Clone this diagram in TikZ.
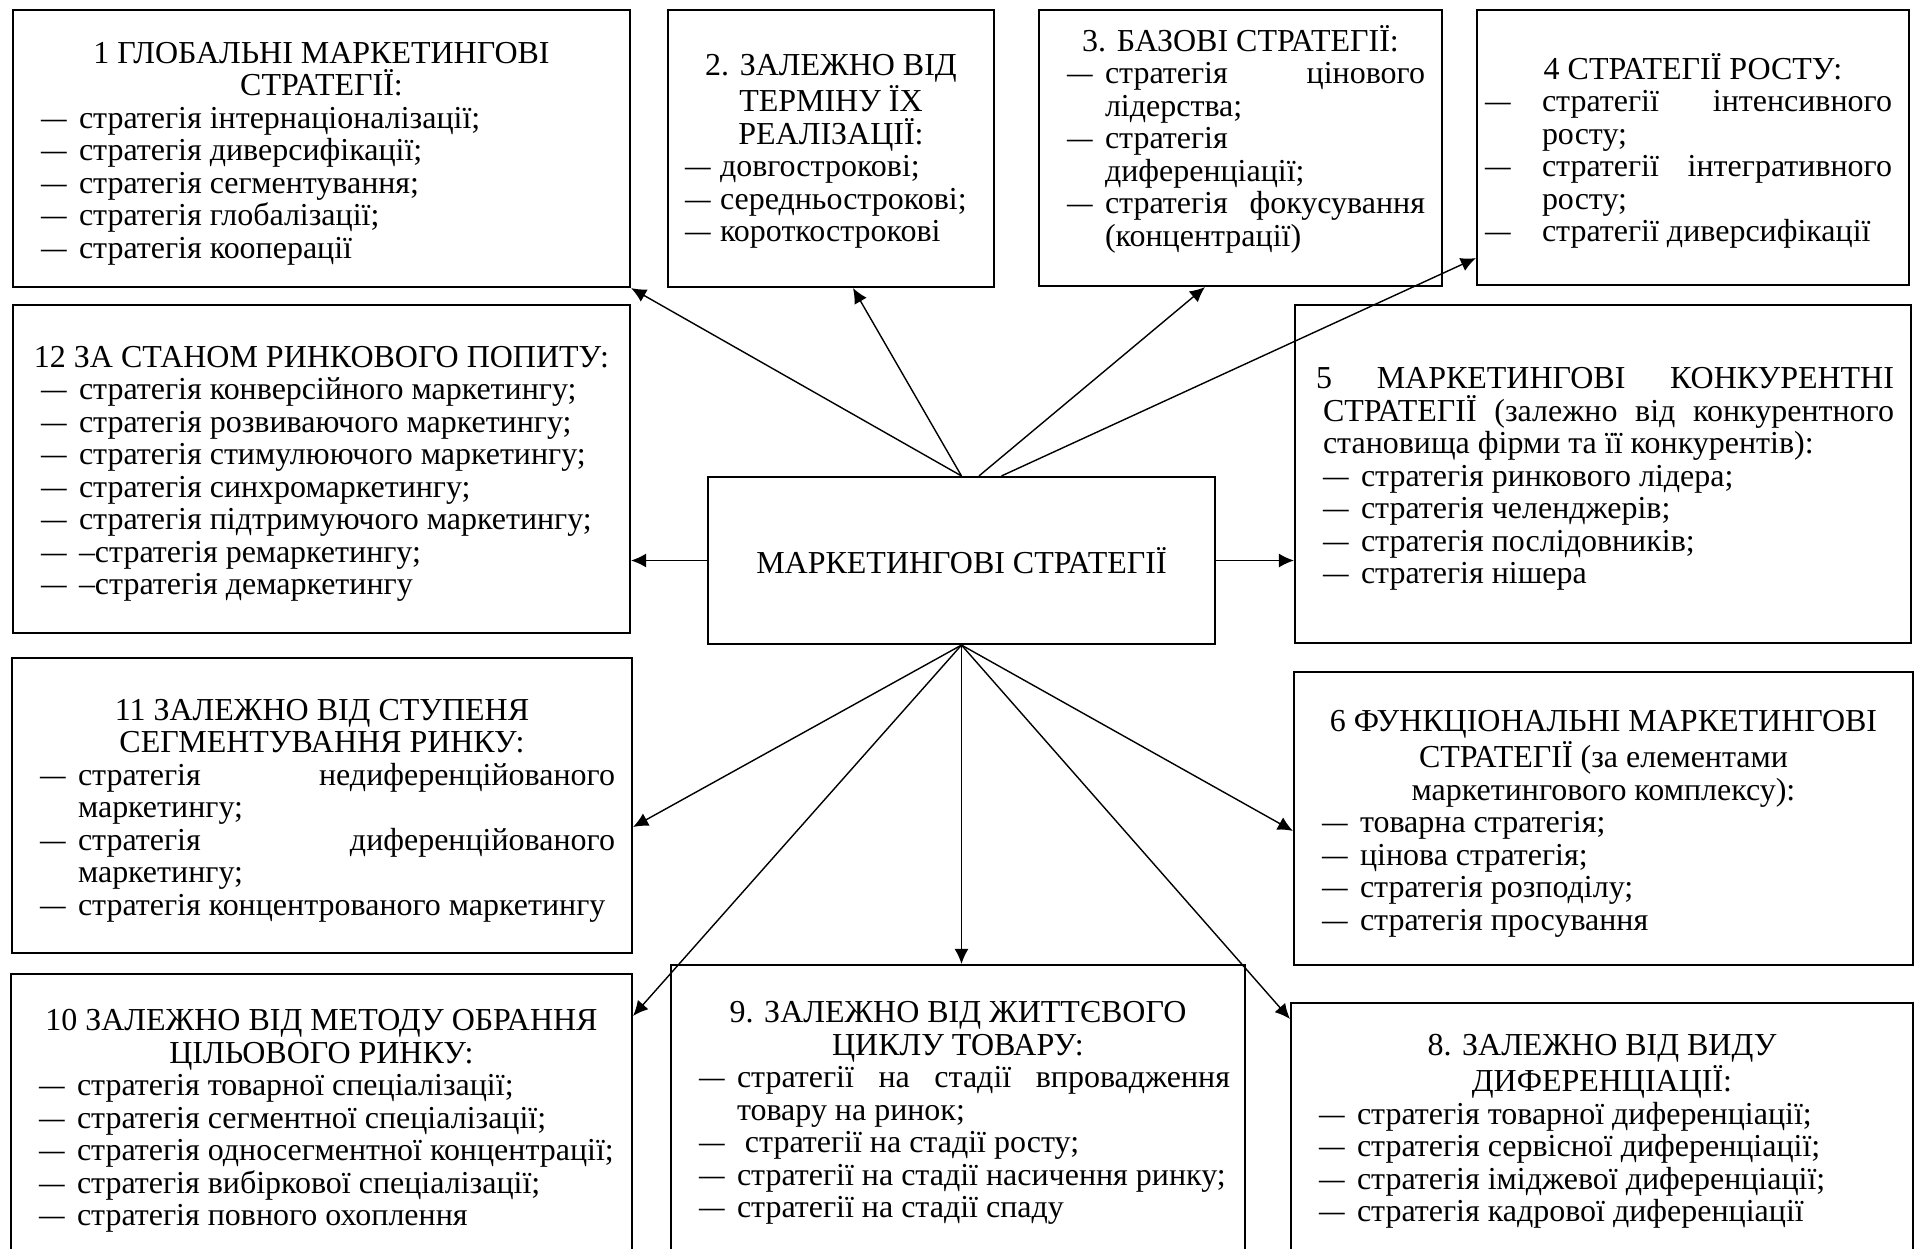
\documentclass[tikz,border=0pt]{standalone}
\usepackage{fontspec}
\setmainfont{Liberation Serif}
\usepackage{graphicx}
\usepackage{tikz}
\usetikzlibrary{calc,arrows.meta,positioning}

\newlength{\dashsk}\setlength{\dashsk}{0.11cm}
\newlength{\itmind}\setlength{\itmind}{0.49cm}
\newcommand{\itm}[1]{\par\noindent\hangindent=\itmind\hangafter=1%
  \makebox[\itmind][l]{\hspace*{\dashsk}\scalebox{0.8}[1]{—}}#1}
\newcommand{\hdr}[1]{{\centering #1\par}}
\newcommand{\tailgap}[1]{\par\vspace{#1}\hrule height0pt width0pt depth0pt}

\tikzset{stratbox/.style={draw, line width=0.6pt, inner sep=0pt, align=justify,
    font=\fontsize{9.1pt}{9.25pt}\selectfont},
  link/.style={-{Latex[length=4.3pt,width=4pt]}, line width=0.4pt}}

\begin{document}
\begin{tikzpicture}

\useasboundingbox (0,0) rectangle (19.21,-12.49);
\clip (0,0) rectangle (19.21,-12.49);

% the centre

    \node[stratbox, align=center, minimum width=5.07cm, minimum height=1.67cm] (ms)
    at (9.615,-5.605) {МАРКЕТИНГОВІ СТРАТЕГІЇ};

% the top row

    \node[stratbox, minimum width=6.17cm, minimum height=2.77cm, text width=5.83cm] (glob)
    at (3.215,-1.485) {\hdr{1 ГЛОБАЛЬНІ МАРКЕТИНГОВІ\\ СТРАТЕГІЇ:}
    \itm{стратегія інтернаціоналізації;}
    \itm{стратегія диверсифікації;}
    \itm{стратегія сегментування;}
    \itm{стратегія глобалізації;}
    \itm{стратегія кооперації}\tailgap{-0.1cm}};
    \node[stratbox, minimum width=3.26cm, minimum height=2.77cm, text width=2.92cm] (term)
    at (8.31,-1.485) {\setlength{\dashsk}{0cm}\setlength{\itmind}{0.35cm}%
    \hdr{2. ЗАЛЕЖНО ВІД\\ ТЕРМІНУ ЇХ\\ РЕАЛІЗАЦІЇ:}
    \itm{довгострокові;}
    \itm{середньострокові;}
    \itm{короткострокові}\tailgap{-0.06cm}};
    \node[stratbox, minimum width=4.03cm, minimum height=2.76cm, text width=3.69cm] (baz)
    at (12.405,-1.48) {\hdr{3. БАЗОВІ СТРАТЕГІЇ:}
    \itm{стратегія цінового\linebreak лідерства;}
    \itm{стратегія\\ диференціації;}
    \itm{стратегія фокусування\linebreak (концентрації)}\tailgap{0.18cm}};
    \node[stratbox, minimum width=4.32cm, minimum height=2.75cm, text width=3.98cm] (rist)
    at (16.93,-1.475) {\setlength{\dashsk}{-0.09cm}\setlength{\itmind}{0.48cm}%
    \hdr{4 СТРАТЕГІЇ РОСТУ:}
    \itm{стратегії інтенсивного\linebreak росту;}
    \itm{стратегії інтегративного\linebreak росту;}
    \itm{стратегії диверсифікації}\tailgap{-0.07cm}};

% the middle row

    \node[stratbox, minimum width=6.17cm, minimum height=3.28cm, text width=5.83cm] (popyt)
    at (3.215,-4.69) {\hdr{12 ЗА СТАНОМ РИНКОВОГО ПОПИТУ:}
    \itm{стратегія конверсійного маркетингу;}
    \itm{стратегія розвиваючого маркетингу;}
    \itm{стратегія стимулюючого маркетингу;}
    \itm{стратегія синхромаркетингу;}
    \itm{стратегія підтримуючого маркетингу;}
    \itm{–стратегія ремаркетингу;}
    \itm{–стратегія демаркетингу}\tailgap{-0.1cm}};
    \node[stratbox, minimum width=6.16cm, minimum height=3.38cm, text width=5.82cm] (konk)
    at (16.03,-4.74) {{\hangindent=0.11cm\hangafter=1\noindent
    \hspace*{0.04cm}5 МАРКЕТИНГОВІ КОНКУРЕНТНІ\linebreak СТРАТЕГІЇ (залежно від конкурентного\linebreak
    становища фірми та її конкурентів):\par}
    \itm{стратегія ринкового лідера;}
    \itm{стратегія челенджерів;}
    \itm{стратегія послідовників;}
    \itm{стратегія нішера}\tailgap{-0.1cm}};
    \node[stratbox, minimum width=6.20cm, minimum height=2.95cm, text width=5.86cm] (segm)
    at (3.22,-8.055) {\hdr{11 ЗАЛЕЖНО ВІД СТУПЕНЯ\\ СЕГМЕНТУВАННЯ РИНКУ:}
    \itm{стратегія недиференційованого\linebreak маркетингу;}
    \itm{стратегія диференційованого\linebreak маркетингу;}
    \itm{стратегія концентрованого маркетингу}\tailgap{-0.1cm}};
    \node[stratbox, minimum width=6.19cm, minimum height=2.93cm, text width=5.85cm] (func)
    at (16.035,-8.185) {\hdr{6 ФУНКЦІОНАЛЬНІ МАРКЕТИНГОВІ\\ СТРАТЕГІЇ (за елементами\\
    маркетингового комплексу):}
    \itm{товарна стратегія;}
    \itm{цінова стратегія;}
    \itm{стратегія розподілу;}
    \itm{стратегія просування}\tailgap{-0.1cm}};

% the bottom row

    \node[stratbox, minimum width=6.21cm, minimum height=2.84cm, text width=5.87cm] (metod)
    at (3.215,-11.16) {\hdr{10 ЗАЛЕЖНО ВІД МЕТОДУ ОБРАННЯ\\ ЦІЛЬОВОГО РИНКУ:}
    \itm{стратегія товарної спеціалізації;}
    \itm{стратегія сегментної спеціалізації;}
    \itm{стратегія односегментної концентрації;}
    \itm{стратегія вибіркової спеціалізації;}
    \itm{стратегія повного охоплення}\tailgap{-0.1cm}};
    \node[stratbox, minimum width=5.74cm, minimum height=2.89cm, text width=5.44cm] (cykl)
    at (9.58,-11.095) {\setlength{\dashsk}{0.13cm}\setlength{\itmind}{0.51cm}%
    \hdr{9. ЗАЛЕЖНО ВІД ЖИТТЄВОГО\\ ЦИКЛУ ТОВАРУ:}
    \itm{стратегії на стадії впровадження\linebreak товару на ринок;}
    \itm{\ стратегії на стадії росту;}
    \itm{стратегії на стадії насичення ринку;}
    \itm{стратегії на стадії спаду}\tailgap{-0.07cm}};
    \node[stratbox, minimum width=6.22cm, minimum height=2.51cm, text width=5.88cm] (dyf)
    at (16.02,-11.285) {\hdr{8. ЗАЛЕЖНО ВІД ВИДУ\\ ДИФЕРЕНЦІАЦІЇ:}
    \itm{стратегія товарної диференціації;}
    \itm{стратегія сервісної диференціації;}
    \itm{стратегія іміджевої диференціації;}
    \itm{стратегія кадрової диференціації}\tailgap{-0.06cm}};

% the arrows

    \draw[link] (ms.north) -- (glob.south east);
    \draw[link] (ms.north) -- ($(term.south)+(0.22,0)$);
    \draw[link] ($(ms.north)+(0.175,0)$) -- ($(baz.south)+(-0.355,0)$);
    \draw[link] ($(ms.north)+(0.40,0)$) -- ($(rist.south west)+(0,0.28)$);
    \draw[link] (ms.west) -- (ms.west -| popyt.east);
    \draw[link] (ms.east) -- (ms.east -| konk.west);
    \draw[link] (ms.south) -- ($(segm.east)+(0,-0.215)$);
    \draw[link] (ms.south) -- ($(metod.north east)+(0,-0.43)$);
    \draw[link] (ms.south) -- (ms.south |- cykl.north);
    \draw[link] (ms.south) -- ($(dyf.north west)+(0,-0.17)$);
    \draw[link] (ms.south) -- ($(func.north west)+(0,-1.6)$);

\end{tikzpicture}
\end{document}
